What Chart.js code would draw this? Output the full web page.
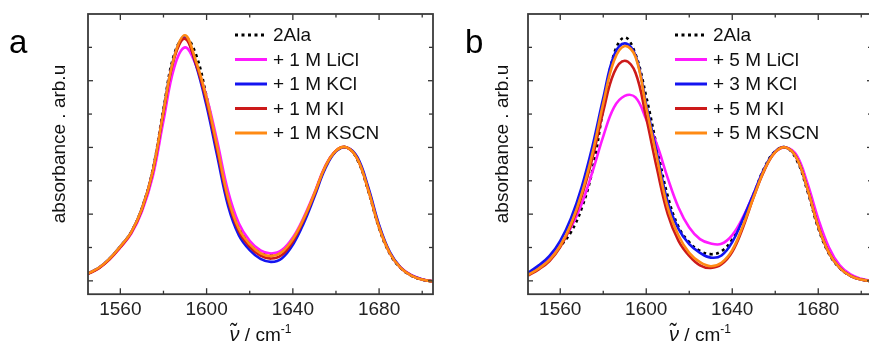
<!DOCTYPE html>
<html lang="en">
<head>
<meta charset="UTF-8" />
<title>2Ala IR spectra</title>
<script src="https://cdn.jsdelivr.net/npm/chart.js"></script>
<style>
  html, body { margin: 0; padding: 0; background: #fff; overflow: hidden; width: 869px; height: 346px; }
  .panel { position: absolute; top: 0; width: 440px; height: 346px; }
  #panelA { left: 0; }
  #panelB { left: 440px; }
</style>
</head>
<body>
<div class="panel" id="panelA"><canvas id="chartA" width="440" height="346"></canvas></div>
<div class="panel" id="panelB"><canvas id="chartB" width="440" height="346"></canvas></div>

<script>
// wavenumber grid (cm-1)
const wavenumbers = [1545, 1550, 1555, 1560, 1565, 1570, 1575, 1580, 1585, 1590, 1595, 1600, 1605, 1610, 1615, 1620, 1625,
  1630, 1635, 1640, 1645, 1650, 1655, 1660, 1665, 1670, 1675, 1680, 1685, 1690, 1695, 1700, 1705];

// reference, same in both panels
const ala2 = [0.055, 0.097, 0.166, 0.258, 0.366, 0.545, 0.83, 1.29, 1.70, 1.825, 1.70, 1.38, 1.0, 0.635, 0.405, 0.29, 0.225,
  0.2, 0.222, 0.31, 0.463, 0.652, 0.85, 0.972, 1.0, 0.905, 0.672, 0.395, 0.202, 0.095, 0.038, 0.01, -0.005];

// panel a: 1 M salts
const aLiCl = [0.054, 0.095, 0.162, 0.25, 0.352, 0.52, 0.78, 1.2, 1.6, 1.75, 1.62, 1.38, 1.04, 0.67, 0.43, 0.3, 0.228,
  0.205, 0.232, 0.325, 0.475, 0.66, 0.86, 0.975, 1.0, 0.918, 0.69, 0.41, 0.21, 0.1, 0.042, 0.012, -0.004];
const aKCl = [0.056, 0.098, 0.167, 0.258, 0.364, 0.54, 0.82, 1.27, 1.68, 1.83, 1.62, 1.31, 0.93, 0.56, 0.34, 0.23, 0.165,
  0.142, 0.17, 0.27, 0.43, 0.63, 0.84, 0.97, 1.0, 0.925, 0.70, 0.42, 0.215, 0.1, 0.041, 0.011, -0.005];
const aKI = [0.052, 0.094, 0.162, 0.252, 0.36, 0.535, 0.815, 1.26, 1.67, 1.815, 1.63, 1.34, 0.97, 0.6, 0.37, 0.255, 0.19,
  0.167, 0.195, 0.295, 0.455, 0.648, 0.853, 0.975, 1.0, 0.912, 0.68, 0.402, 0.207, 0.097, 0.04, 0.01, -0.005];
const aKSCN = [0.056, 0.098, 0.167, 0.258, 0.364, 0.54, 0.82, 1.27, 1.68, 1.84, 1.65, 1.37, 1.0, 0.62, 0.39, 0.275, 0.207,
  0.187, 0.217, 0.313, 0.465, 0.654, 0.856, 0.975, 1.0, 0.912, 0.68, 0.402, 0.207, 0.097, 0.04, 0.01, -0.005];

// panel b: concentrated salts
const bLiCl = [0.053, 0.106, 0.172, 0.268, 0.40, 0.578, 0.818, 1.083, 1.30, 1.386, 1.375, 1.21, 1.02, 0.77, 0.55, 0.40, 0.313,
  0.28, 0.278, 0.343, 0.477, 0.654, 0.84, 0.965, 1.0, 0.94, 0.73, 0.465, 0.25, 0.116, 0.048, 0.015, 0.0];
const bKCl = [0.061, 0.116, 0.187, 0.30, 0.47, 0.705, 1.01, 1.37, 1.69, 1.78, 1.69, 1.32, 0.955, 0.59, 0.39, 0.275, 0.21,
  0.174, 0.19, 0.29, 0.465, 0.654, 0.845, 0.97, 1.0, 0.92, 0.69, 0.41, 0.21, 0.098, 0.038, 0.01, -0.003];
const bKI = [0.040, 0.086, 0.149, 0.253, 0.414, 0.636, 0.924, 1.27, 1.56, 1.65, 1.56, 1.22, 0.84, 0.50, 0.30, 0.187, 0.116,
  0.096, 0.124, 0.217, 0.40, 0.63, 0.83, 0.965, 1.0, 0.92, 0.69, 0.41, 0.21, 0.098, 0.038, 0.01, -0.003];
const bKSCN = [0.045, 0.093, 0.157, 0.263, 0.427, 0.654, 0.957, 1.33, 1.65, 1.76, 1.68, 1.30, 0.92, 0.55, 0.34, 0.21, 0.14,
  0.11, 0.136, 0.23, 0.414, 0.63, 0.835, 0.965, 1.0, 0.92, 0.69, 0.41, 0.21, 0.098, 0.038, 0.01, -0.003];

const labelsA = ["2Ala", "+ 1 M LiCl", "+ 1 M KCl", "+ 1 M KI", "+ 1 M KSCN"];
const labelsB = ["2Ala", "+ 5 M LiCl", "+ 3 M KCl", "+ 5 M KI", "+ 5 M KSCN"];

const xTicksMajor = [1560, 1600, 1640, 1680];
const xTicksMinor = [1580, 1620, 1660, 1700];
const yTicksMajor = [0, 0.5, 1, 1.5];
const yTicksMinor = [0.25, 0.75, 1.25, 1.75];

const colors = ["#000000", "#ff1aff", "#1414f0", "#cc1a1a", "#ff8a14"];
const FONT = "'Liberation Sans', Arial, Helvetica, sans-serif";

function points(ys) {
  return wavenumbers.map((x, i) => ({ x: x, y: ys[i] }));
}

function makeDatasets(labels, series) {
  return series.map((ys, i) => ({
    label: labels[i],
    data: points(ys),
    borderColor: colors[i],
    borderWidth: 2.6,
    borderDash: i === 0 ? [3, 3.5] : [],
    pointRadius: 0,
    tension: 0.4,
    fill: false,
    // KSCN on top, 2Ala at the bottom
    order: 4 - i,
  }));
}

// frame, inward ticks, legend, titles and panel letter
const decor = {
  id: "decor",
  afterDraw(chart, args, opts) {
    const ctx = chart.ctx;
    const a = chart.chartArea;
    const xs = chart.scales.x, ys = chart.scales.y;
    ctx.save();
    ctx.strokeStyle = "#333";
    ctx.lineWidth = 1.3;
    const tick = (x1, y1, x2, y2) => { ctx.beginPath(); ctx.moveTo(x1, y1); ctx.lineTo(x2, y2); ctx.stroke(); };
    xTicksMajor.forEach(v => { const p = xs.getPixelForValue(v); tick(p, a.bottom, p, a.bottom - 6); tick(p, a.top, p, a.top + 6); });
    xTicksMinor.forEach(v => { const p = xs.getPixelForValue(v); tick(p, a.bottom, p, a.bottom - 3.5); tick(p, a.top, p, a.top + 3.5); });
    yTicksMajor.forEach(v => { const p = ys.getPixelForValue(v); tick(a.left, p, a.left + 5, p); tick(a.right, p, a.right - 5, p); });
    yTicksMinor.forEach(v => { const p = ys.getPixelForValue(v); tick(a.left, p, a.left + 4, p); tick(a.right, p, a.right - 4, p); });

    ctx.lineWidth = 1.8;
    ctx.strokeStyle = "#3a3a3a";
    ctx.strokeRect(a.left, a.top, a.right - a.left, a.bottom - a.top);

    // legend
    ctx.font = "19px " + FONT;
    ctx.textBaseline = "middle";
    ctx.fillStyle = "#111";
    chart.data.datasets.forEach((ds, i) => {
      const y = a.top + 21 + i * 24.5;
      const x0 = a.left + 147;
      ctx.strokeStyle = ds.borderColor;
      ctx.lineWidth = 3;
      ctx.setLineDash(ds.borderDash);
      tick(x0, y, x0 + 32, y);
      ctx.setLineDash([]);
      ctx.fillText(ds.label, x0 + 38, y + 1);
    });

    // y title
    ctx.save();
    ctx.translate(opts.yTitleX, 144);
    ctx.rotate(-Math.PI / 2);
    ctx.textAlign = "center";
    ctx.textBaseline = "middle";
    ctx.font = "19px " + FONT;
    ctx.fillText("absorbance . arb.u", 0, 0);
    ctx.restore();

    // x title: nu-tilde / cm^-1
    const cx = (a.left + a.right) / 2;
    const base = 341;
    ctx.textBaseline = "alphabetic";
    ctx.textAlign = "left";
    const nu = "\u03BD\u0303";
    const mid = " / cm";
    const sup = "-1";
    ctx.font = "italic 20px " + FONT;
    const wNu = ctx.measureText(nu).width;
    ctx.font = "19px " + FONT;
    const wMid = ctx.measureText(mid).width;
    ctx.font = "12px " + FONT;
    const wSup = ctx.measureText(sup).width;
    let x = cx - (wNu + wMid + wSup) / 2;
    ctx.font = "italic 20px " + FONT;
    ctx.fillText(nu, x, base);
    x += wNu;
    ctx.font = "19px " + FONT;
    ctx.fillText(mid, x, base);
    x += wMid;
    ctx.font = "12px " + FONT;
    ctx.fillText(sup, x, base - 8);

    // panel letter
    ctx.font = "33px " + FONT;
    ctx.fillStyle = "#000";
    ctx.fillText(opts.letter, opts.letterX, 53);
    ctx.restore();
  },
};

function makeChart(id, labels, series, letter, letterX, yTitleX, rightPad) {
  return new Chart(document.getElementById(id), {
    type: "line",
    data: { datasets: makeDatasets(labels, series) },
    options: {
      responsive: false,
      devicePixelRatio: 1,
      animation: false,
      layout: { padding: { left: 88, right: rightPad, top: 14, bottom: 21 } },
      scales: {
        x: {
          type: "linear",
          min: 1545,
          max: 1705,
          afterBuildTicks: (scale) => { scale.ticks = xTicksMajor.map(v => ({ value: v })); },
          grid: { display: false, drawTicks: false },
          border: { display: false },
          ticks: {
            padding: 4,
            color: "#222",
            font: { size: 19, family: FONT },
            maxRotation: 0,
            callback: (v) => String(v),
          },
        },
        y: {
          display: false,
          min: -0.1,
          max: 2.0,
        },
      },
      plugins: {
        legend: { display: false },
        tooltip: { enabled: false },
        decor: { letter: letter, letterX: letterX, yTitleX: yTitleX },
      },
    },
    plugins: [decor],
  });
}

makeChart("chartA", labelsA, [ala2, aLiCl, aKCl, aKI, aKSCN], "a", 9, 60, 7);
makeChart("chartB", labelsB, [ala2, bLiCl, bKCl, bKI, bKSCN], "b", 25, 63, 8);
</script>
</body>
</html>
